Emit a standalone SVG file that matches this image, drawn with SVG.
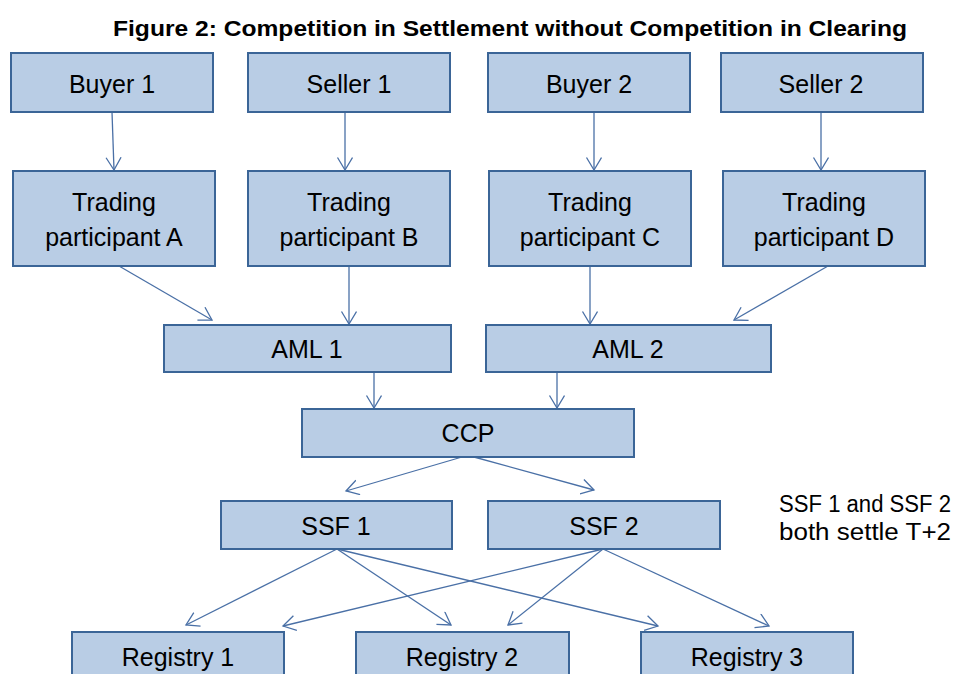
<svg xmlns="http://www.w3.org/2000/svg" width="961" height="674" viewBox="0 0 961 674">
<style>
.box{fill:#b9cde5;stroke:#3b6597;stroke-width:2}
.lbl{font-family:"Liberation Sans",Arial,sans-serif;font-size:25px;fill:#000;text-anchor:middle}
.title{font-family:"Liberation Sans",Arial,sans-serif;font-size:22px;font-weight:bold;fill:#000;text-anchor:middle}
.note{font-family:"Liberation Sans",Arial,sans-serif;font-size:23px;fill:#000}
.conn line{stroke:#4a70a6;stroke-width:1.3;fill:none;marker-end:url(#arr)}
</style>
<defs>
<marker id="arr" markerUnits="userSpaceOnUse" markerWidth="16" markerHeight="18" refX="13" refY="8" orient="auto">
<path d="M0.5,0.5 L13,8 L0.5,15.5" fill="none" stroke="#4a70a6" stroke-width="1.3"/>
</marker>
</defs>
<rect width="961" height="674" fill="#fff"/>
<text class="title" x="510" y="36" textLength="794" lengthAdjust="spacingAndGlyphs">Figure 2: Competition in Settlement without Competition in Clearing</text>

<g class="conn" id="connectors">
<line x1="112" y1="112" x2="114" y2="170"/>
<line x1="345" y1="112" x2="345" y2="170"/>
<line x1="594" y1="112" x2="594" y2="170"/>
<line x1="821" y1="112" x2="821" y2="170"/>
<line x1="119" y1="266" x2="212" y2="320"/>
<line x1="349" y1="266" x2="349" y2="324"/>
<line x1="590" y1="266" x2="590" y2="324"/>
<line x1="828" y1="266" x2="734" y2="320"/>
<line x1="374" y1="372" x2="374" y2="408"/>
<line x1="557" y1="372" x2="557" y2="408"/>
<line x1="462" y1="457" x2="346" y2="491"/>
<line x1="474" y1="457" x2="594" y2="490"/>
<line x1="337" y1="549" x2="186" y2="625"/>
<line x1="337" y1="549" x2="451" y2="625"/>
<line x1="337" y1="549" x2="658" y2="626"/>
<line x1="603" y1="549" x2="283" y2="626"/>
<line x1="603" y1="549" x2="508" y2="625"/>
<line x1="603" y1="549" x2="769" y2="626"/>
</g>

<g id="buyer1"><rect class="box" x="11" y="53" width="202" height="59"/><text class="lbl" x="112" y="93">Buyer 1</text></g>
<g id="seller1"><rect class="box" x="248" y="53" width="202" height="59"/><text class="lbl" x="349" y="93">Seller 1</text></g>
<g id="buyer2"><rect class="box" x="488" y="53" width="202" height="59"/><text class="lbl" x="589" y="93">Buyer 2</text></g>
<g id="seller2"><rect class="box" x="721" y="53" width="202" height="59"/><text class="lbl" x="821" y="93">Seller 2</text></g>

<g id="tpA"><rect class="box" x="13" y="171" width="202" height="95"/><text class="lbl" x="114" y="211">Trading</text><text class="lbl" x="114" y="246">participant A</text></g>
<g id="tpB"><rect class="box" x="248" y="171" width="202" height="95"/><text class="lbl" x="349" y="211">Trading</text><text class="lbl" x="349" y="246">participant B</text></g>
<g id="tpC"><rect class="box" x="489" y="171" width="202" height="95"/><text class="lbl" x="590" y="211">Trading</text><text class="lbl" x="590" y="246">participant C</text></g>
<g id="tpD"><rect class="box" x="723" y="171" width="202" height="95"/><text class="lbl" x="824" y="211">Trading</text><text class="lbl" x="824" y="246">participant D</text></g>

<g id="aml1"><rect class="box" x="164" y="325" width="287" height="47"/><text class="lbl" x="307" y="358">AML 1</text></g>
<g id="aml2"><rect class="box" x="486" y="325" width="285" height="47"/><text class="lbl" x="628" y="358">AML 2</text></g>

<g id="ccp"><rect class="box" x="302" y="409" width="332" height="48"/><text class="lbl" x="468" y="442">CCP</text></g>

<g id="ssf1"><rect class="box" x="221" y="501" width="231" height="48"/><text class="lbl" x="336" y="535">SSF 1</text></g>
<g id="ssf2"><rect class="box" x="488" y="501" width="232" height="48"/><text class="lbl" x="604" y="535">SSF 2</text></g>

<g id="reg1"><rect class="box" x="72" y="632" width="212" height="60"/><text class="lbl" x="178" y="666">Registry 1</text></g>
<g id="reg2"><rect class="box" x="356" y="632" width="213" height="60"/><text class="lbl" x="462" y="666">Registry 2</text></g>
<g id="reg3"><rect class="box" x="641" y="632" width="212" height="60"/><text class="lbl" x="747" y="666">Registry 3</text></g>

<g id="note">
<text class="note" x="779" y="512" textLength="172" lengthAdjust="spacingAndGlyphs">SSF 1 and SSF 2</text>
<text class="note" x="779" y="540" textLength="172" lengthAdjust="spacingAndGlyphs">both settle T+2</text>
</g>
</svg>
